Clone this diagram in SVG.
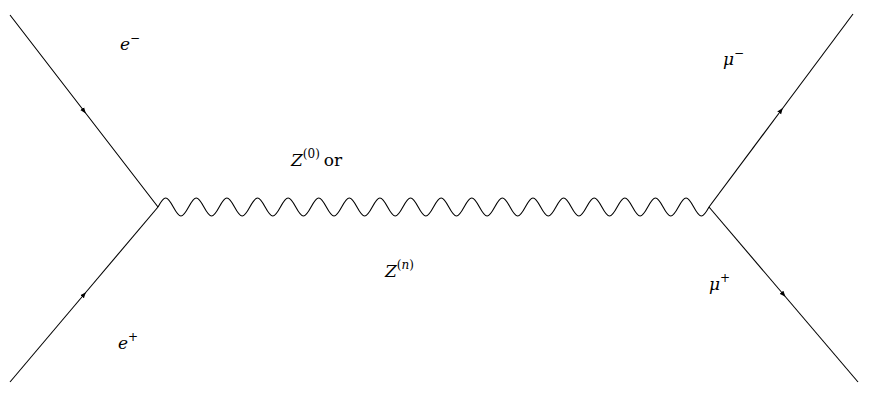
<svg xmlns="http://www.w3.org/2000/svg" width="875" height="395" viewBox="0 0 875 395">
<style>
.f{fill:none;stroke:#000;stroke-width:1.1;marker-mid:url(#ar)}
.w{fill:none;stroke:#000;stroke-width:1.1}
.t{font-family:"DejaVu Serif","Liberation Serif",serif;font-size:17px;fill:#000}
.i{font-style:italic}
.s{font-size:12px}
</style>
<defs>
<marker id="ar" viewBox="0 0 10 10" refX="5" refY="5" markerWidth="6" markerHeight="6" markerUnits="userSpaceOnUse" orient="auto">
<path d="M0,1 L10,5 L0,9 Z" fill="#000"/>
</marker>
</defs>
<rect width="875" height="395" fill="#fff"/>
<g id="connectors">
<path id="eminus" class="f" d="M10,15 L84,111 L158,207"/>
<path id="eplus" class="f" d="M10,382 L84,294.5 L158,207"/>
<path id="muminus" class="f" d="M709,207 L781,110.5 L853,14"/>
<path id="muplus" class="f" d="M709,207 L783.5,294.5 L858,382"/>
<path id="boson" class="w" d="M158,207 c2.495,-4.611 4.883,-9 7.653,-9 s5.158,4.389 7.653,9 s4.883,9 7.653,9 s5.158,-4.389 7.653,-9
s4.883,-9 7.653,-9 s5.158,4.389 7.653,9 s4.883,9 7.653,9 s5.158,-4.389 7.653,-9
s4.883,-9 7.653,-9 s5.158,4.389 7.653,9 s4.883,9 7.653,9 s5.158,-4.389 7.653,-9
s4.883,-9 7.653,-9 s5.158,4.389 7.653,9 s4.883,9 7.653,9 s5.158,-4.389 7.653,-9
s4.883,-9 7.653,-9 s5.158,4.389 7.653,9 s4.883,9 7.653,9 s5.158,-4.389 7.653,-9
s4.883,-9 7.653,-9 s5.158,4.389 7.653,9 s4.883,9 7.653,9 s5.158,-4.389 7.653,-9
s4.883,-9 7.653,-9 s5.158,4.389 7.653,9 s4.883,9 7.653,9 s5.158,-4.389 7.653,-9
s4.883,-9 7.653,-9 s5.158,4.389 7.653,9 s4.883,9 7.653,9 s5.158,-4.389 7.653,-9
s4.883,-9 7.653,-9 s5.158,4.389 7.653,9 s4.883,9 7.653,9 s5.158,-4.389 7.653,-9
s4.883,-9 7.653,-9 s5.158,4.389 7.653,9 s4.883,9 7.653,9 s5.158,-4.389 7.653,-9
s4.883,-9 7.653,-9 s5.158,4.389 7.653,9 s4.883,9 7.653,9 s5.158,-4.389 7.653,-9
s4.883,-9 7.653,-9 s5.158,4.389 7.653,9 s4.883,9 7.653,9 s5.158,-4.389 7.653,-9
s4.883,-9 7.653,-9 s5.158,4.389 7.653,9 s4.883,9 7.653,9 s5.158,-4.389 7.653,-9
s4.883,-9 7.653,-9 s5.158,4.389 7.653,9 s4.883,9 7.653,9 s5.158,-4.389 7.653,-9
s4.883,-9 7.653,-9 s5.158,4.389 7.653,9 s4.883,9 7.653,9 s5.158,-4.389 7.653,-9
s4.883,-9 7.653,-9 s5.158,4.389 7.653,9 s4.883,9 7.653,9 s5.158,-4.389 7.653,-9
s4.883,-9 7.653,-9 s5.158,4.389 7.653,9 s4.883,9 7.653,9 s5.158,-4.389 7.653,-9
s4.883,-9 7.653,-9 s5.158,4.389 7.653,9 s4.883,9 7.653,9 s5.158,-4.389 7.653,-9"/>
</g>
<g id="label-eminus"><text class="t" x="120" y="50"><tspan class="i">e</tspan><tspan class="s" dy="-8">−</tspan></text></g>
<g id="label-eplus"><text class="t" x="118" y="349"><tspan class="i">e</tspan><tspan class="s" dy="-8">+</tspan></text></g>
<g id="label-z0"><text class="t" x="291" y="166"><tspan class="i">Z</tspan><tspan class="s" dy="-8">(0)</tspan><tspan dy="8" dx="4">or</tspan></text></g>
<g id="label-zn"><text class="t" x="385" y="277"><tspan class="i">Z</tspan><tspan class="s" dy="-8">(<tspan class="i">n</tspan>)</tspan></text></g>
<g id="label-muminus"><text class="t" x="723" y="65"><tspan class="i">μ</tspan><tspan class="s" dy="-8">−</tspan></text></g>
<g id="label-muplus"><text class="t" x="709" y="290"><tspan class="i">μ</tspan><tspan class="s" dy="-8">+</tspan></text></g>
</svg>
